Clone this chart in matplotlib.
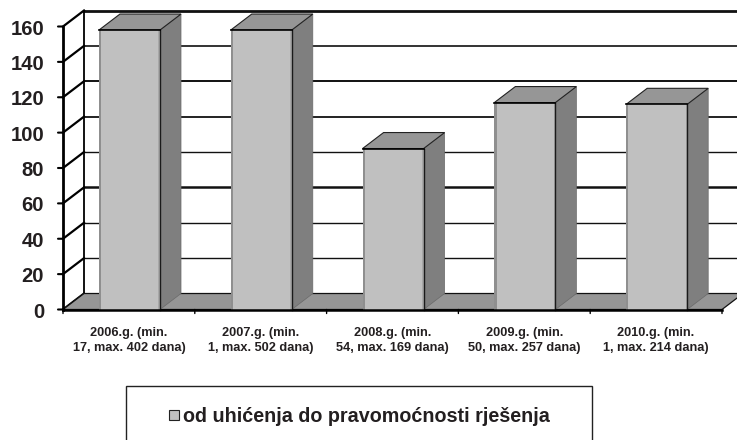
import matplotlib
matplotlib.use("Agg")
import matplotlib.pyplot as plt
from matplotlib.patches import Polygon, Rectangle

# Valeurs
categories = ["2006.g. (min.\n17, max. 402 dana)", "2007.g. (min.\n1, max. 502 dana)",
              "2008.g. (min.\n54, max. 169 dana)", "2009.g. (min.\n50, max. 257 dana)",
              "2010.g. (min.\n1, max. 214 dana)"]
values = [158, 158, 91, 117, 116]
yticks = [0, 20, 40, 60, 80, 100, 120, 140, 160]
grid_widths = [1.2, 1.0, 1.0, 1.8, 1.0, 1.3, 1.4, 1.2, 2.0]
legend_label = "od uhićenja do pravomoćnosti rješenja"

plt.rcParams['font.family'] = ['Liberation Sans', 'DejaVu Sans']
W, H = 737, 440
TXT = "#231f20"
fig = plt.figure(figsize=(W / 100, H / 100), dpi=100)

# Axe principal : x en categories, y en valeurs
left, right, top, bottom = 63, 722, 26.5, 309.5
ax = fig.add_axes([left / W, 1 - bottom / H, (right - left) / W, (bottom - top) / H])
ax.set_xlim(0, len(values))
ax.set_ylim(0, 160)
ax.axis("off")

# Profondeur de la fausse 3D
dx = 21 / ((right - left) / len(values))
dy = 16 / ((bottom - top) / 160)
bar_start, bar_width = 0.273, 0.463
n = len(values)

# Grille sur le mur du fond + diagonales du mur gauche
for t, lw in zip(yticks, grid_widths):
    ax.plot([dx, n + dx], [t + dy, t + dy], color="#111111", lw=lw, clip_on=False, zorder=1)
    ax.plot([0, dx], [t, t + dy], color="black", lw=1.6, clip_on=False, zorder=1)
ax.plot([dx, dx], [dy, 160 + dy], color="black", lw=1.3, clip_on=False, zorder=1)

# Sol
ax.add_patch(Polygon([(0, 0), (n, 0), (n + dx, dy), (dx, dy)], closed=True, fc="#969696",
                     ec="#111111", lw=0.9, clip_on=False, zorder=2))

# Barres
for i, v in enumerate(values):
    x0 = i + bar_start
    x1 = x0 + bar_width
    ax.add_patch(Polygon([(x1, 0), (x1 + dx, dy), (x1 + dx, v + dy), (x1, v)], closed=True,
                         fc="#7f7f7f", ec="#6a6a6a", lw=0.5, clip_on=False, zorder=3))
    ax.add_patch(Polygon([(x0, v), (x1, v), (x1 + dx, v + dy), (x0 + dx, v + dy)], closed=True,
                         fc="#969696", ec="#222222", lw=0.8, clip_on=False, zorder=3))
    ax.add_patch(Rectangle((x0, 0), bar_width, v, fc="#c0c0c0", ec="none", clip_on=False, zorder=4))
    # bandes plus sombres sur les bords de la face avant
    ax.add_patch(Rectangle((x0, 0), 0.017, v, fc="#8f8f8f", ec="none", clip_on=False, zorder=4))
    ax.add_patch(Rectangle((x1 - 0.012, 0), 0.012, v, fc="#a8a8a8", ec="none", clip_on=False, zorder=4))
    ax.plot([x1, x1], [0, v], color="#1a1a1a", lw=1.0, clip_on=False, zorder=5)
    ax.plot([x0, x1], [v, v], color="black", lw=1.2, clip_on=False, zorder=5)

# Axes avant
ax.plot([0, 0], [0, 160], color="black", lw=2.0, clip_on=False, zorder=6)
ax.plot([0, n], [0, 0], color="black", lw=1.8, clip_on=False, zorder=6)
for t in yticks:
    ax.annotate("", xy=(0, t), xytext=(-5, 0), textcoords="offset pixels", xycoords="data",
                arrowprops=dict(arrowstyle="-", color="black", lw=1.5, shrinkA=0, shrinkB=0), zorder=6)
    ax.annotate(str(t), xy=(0, t), xytext=(-19, -2.5), textcoords="offset pixels", ha="right",
                va="center", fontsize=14.6, fontweight="bold", color=TXT, annotation_clip=False)
for i in range(n + 1):
    ax.annotate("", xy=(i, 0), xytext=(0, -4), textcoords="offset pixels",
                arrowprops=dict(arrowstyle="-", color="black", lw=1.0, shrinkA=0, shrinkB=0))
for i, c in enumerate(categories):
    ax.annotate(c, xy=(i + 0.5, 0), xytext=(0, -17.5), textcoords="offset pixels", ha="center",
                va="top", fontsize=9.2, fontweight="bold", color=TXT, linespacing=1.32,
                annotation_clip=False)

# Legende, coupee par le bas de l'image
fig.add_artist(Rectangle((126 / W, -0.05), (592 - 126) / W, 1.05 - 386 / H, transform=fig.transFigure,
                         fc="white", ec="#222222", lw=1.0))
fig.add_artist(Rectangle((169 / W, 1 - 420 / H), 10 / W, 10 / H, transform=fig.transFigure,
                         fc="#c0c0c0", ec="#222222", lw=0.8))
fig.text(183 / W, 1 - 416 / H, legend_label, fontsize=14.2, fontweight="bold", color=TXT,
         ha="left", va="center")

fig.savefig("out.png", dpi=100)
